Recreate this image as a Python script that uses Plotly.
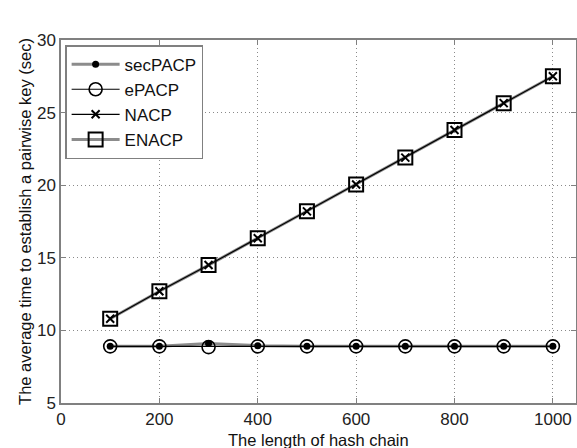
import plotly.graph_objects as go

x_vals = [100, 200, 300, 400, 500, 600, 700, 800, 900, 1000]
secpacp = [8.9, 8.9, 9.1, 8.95, 8.9, 8.9, 8.9, 8.9, 8.9, 8.9]
epacp = [8.9, 8.9, 8.85, 8.9, 8.9, 8.9, 8.9, 8.9, 8.9, 8.9]
nacp = [10.8, 12.7, 14.5, 16.35, 18.2, 20.05, 21.9, 23.8, 25.65, 27.5]
enacp = [10.8, 12.7, 14.5, 16.35, 18.2, 20.05, 21.9, 23.8, 25.65, 27.5]
x_ticks = [0, 200, 400, 600, 800, 1000]
y_ticks = [5, 10, 15, 20, 25, 30]
x_title = "The length of hash chain"
y_title = "The average time to establish a pairwise key (sec)"

FONT = "Liberation Sans, Arial"

fig = go.Figure()
fig.add_trace(go.Scatter(x=x_vals, y=enacp, name="ENACP", mode="lines+markers",
                         line=dict(color="#8c8c8c", width=3),
                         marker=dict(symbol="square-open", size=14, color="black",
                                     line=dict(width=2, color="black")),
                         legendrank=4))
fig.add_trace(go.Scatter(x=x_vals, y=nacp, name="NACP", mode="lines+markers",
                         line=dict(color="black", width=1.2),
                         marker=dict(symbol="x-thin", size=8, color="black",
                                     line=dict(width=2, color="black")),
                         legendrank=3))
fig.add_trace(go.Scatter(x=x_vals, y=secpacp, name="secPACP", mode="lines+markers",
                         line=dict(color="#8c8c8c", width=3),
                         marker=dict(symbol="circle", size=7, color="black"),
                         legendrank=1))
fig.add_trace(go.Scatter(x=x_vals, y=epacp, name="ePACP", mode="lines+markers",
                         line=dict(color="black", width=1.2),
                         marker=dict(symbol="circle-open", size=13, color="black",
                                     line=dict(width=1.6, color="black")),
                         legendrank=2))

axis_common = dict(showline=True, linecolor="#808080", linewidth=1.5, mirror="ticks",
                   ticks="inside", ticklen=5, tickcolor="#808080",
                   showgrid=True, gridcolor="#8a8a8a", griddash="1px,3px", gridwidth=1,
                   zeroline=False, automargin=False,
                   tickfont=dict(family=FONT, size=17, color="#222"))

fig.update_xaxes(range=[0, 1047], tickvals=x_ticks, **axis_common)
fig.update_yaxes(range=[5, 30], tickvals=y_ticks, **axis_common)

fig.add_annotation(text=x_title, xref="paper", yref="paper", x=0.5, y=-0.102,
                   xanchor="center", yanchor="middle", showarrow=False,
                   font=dict(family=FONT, size=16.5, color="#111"))
fig.add_annotation(text=y_title, xref="paper", yref="paper", x=-0.071, y=0.5,
                   xanchor="center", yanchor="middle", showarrow=False, textangle=-90,
                   font=dict(family=FONT, size=16.5, color="#111"))

fig.update_layout(
    width=577, height=448,
    margin=dict(l=61, r=1, t=40, b=45),
    plot_bgcolor="white", paper_bgcolor="white",
    legend=dict(x=0.008, y=0.986, xanchor="left", yanchor="top",
                bgcolor="white", bordercolor="#808080", borderwidth=1.5,
                font=dict(family=FONT, size=17, color="#111"),
                itemwidth=48, tracegroupgap=0),
    showlegend=True,
)

fig.write_html("out.html", config={"displayModeBar": False},
               post_script="document.body.style.margin='0';document.body.style.overflow='hidden';")
